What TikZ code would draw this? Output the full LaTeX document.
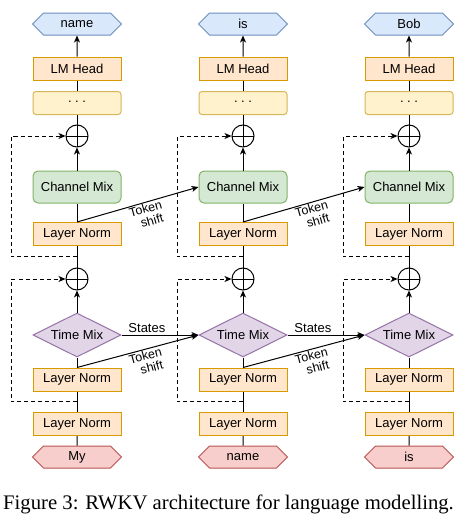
\documentclass[tikz,border=0pt]{standalone}
\usepackage{fontspec}
\setmainfont{Liberation Serif}
\setsansfont{Liberation Sans}
\usetikzlibrary{arrows.meta,shapes.geometric,shapes.symbols}
\definecolor{NormFill}{HTML}{FFE6CC}
\definecolor{NormLine}{HTML}{D79B00}
\definecolor{DotsFill}{HTML}{FFF2CC}
\definecolor{DotsLine}{HTML}{D6B656}
\definecolor{ChanFill}{HTML}{D5E8D4}
\definecolor{ChanLine}{HTML}{82B366}
\definecolor{TimeFill}{HTML}{E1D5E7}
\definecolor{TimeLine}{HTML}{9673A6}
\definecolor{OutFill}{HTML}{DAE8FC}
\definecolor{OutLine}{HTML}{6C8EBF}
\definecolor{InFill}{HTML}{F8CECC}
\definecolor{InLine}{HTML}{B85450}

\begin{document}
\begin{tikzpicture}[x=1pt, y=-1pt,
        txt/.style={font=\sffamily\fontsize{13}{15}\selectfont},
        blk/.style={txt, draw=NormLine, fill=NormFill, line width=1pt,
                    minimum width=88pt, minimum height=23pt, inner sep=0pt},
        dotsbox/.style={blk, draw=DotsLine, fill=DotsFill, rounded corners=3pt},
        chanbox/.style={blk, draw=ChanLine, fill=ChanFill, rounded corners=5pt, minimum height=32pt},
        timebox/.style={txt, diamond, aspect=2, draw=TimeLine, fill=TimeFill, line width=1pt,
                    minimum width=88pt, minimum height=44pt, inner sep=0pt},
        tokhex/.style={txt, signal, signal to=west and east, line width=1pt,
                    minimum width=89pt, minimum height=22pt, inner sep=0pt},
        addop/.style={circle, draw, line width=1pt, minimum size=22pt, inner sep=0pt,
                    path picture={\draw[line width=1pt] (path picture bounding box.north) -- (path picture bounding box.south)
                                  (path picture bounding box.west) -- (path picture bounding box.east);}},
        arr/.style={-{Stealth[length=7pt, width=6pt, inset=2pt]}, line width=1pt},
        res/.style={arr, dash pattern=on 4pt off 3pt},
        tslab/.style={txt, sloped, below, pos=0.55, align=center, inner sep=1pt,
                    font=\sffamily\fontsize{12.5}{13}\selectfont}
]
    \useasboundingbox (0,0) rectangle (469,522);

    \foreach \i/\x/\tin/\tout in {1/77/My/name, 2/243/name/is, 3/409/is/Bob} {
        \node[tokhex, draw=OutLine, fill=OutFill] (out\i) at (\x,24) {\tout};
        \node[blk] (head\i) at (\x,68.5) {LM Head};
        \node[dotsbox] (dots\i) at (\x,103) {\raisebox{3pt}{.\hspace{3.5pt}.\hspace{3.5pt}.}};
        \node[addop] (addB\i) at (\x,136) {};
        \node[chanbox] (cmix\i) at (\x,187) {Channel Mix};
        \node[blk] (lnC\i) at (\x,234) {Layer Norm};
        \node[addop] (addA\i) at (\x,279) {};
        \node[timebox] (tmix\i) at (\x,335) {Time Mix};
        \node[blk] (lnB\i) at (\x,379.5) {Layer Norm};
        \node[blk] (lnA\i) at (\x,424) {Layer Norm};
        \node[tokhex, draw=InLine, fill=InFill] (in\i) at (\x,457) {\tin};
        \coordinate (splitA\i) at (\x,401.5);
        \coordinate (splitB\i) at (\x,256.5);

        \draw[line width=1pt] (in\i) -- (lnA\i);
        \draw[line width=1pt] (lnA\i) -- (lnB\i);
        \draw[line width=1pt] (lnB\i) -- (tmix\i);
        \draw[arr] (tmix\i) -- (addA\i);
        \draw[line width=1pt] (addA\i) -- (lnC\i);
        \draw[line width=1pt] (lnC\i) -- (cmix\i);
        \draw[arr] (cmix\i) -- (addB\i);
        \draw[line width=1pt] (addB\i) -- (dots\i);
        \draw[line width=1pt] (dots\i) -- (head\i);
        \draw[arr] (head\i) -- (out\i);

        \draw[res] (splitA\i) -- ++(-66,0) |- (addA\i.west);
        \draw[res] (splitB\i) -- ++(-66,0) |- (addB\i.west);
    }

    \foreach \i/\j in {1/2, 2/3} {
        \draw[arr] (tmix\i.east) -- node[txt, above, pos=0.33, inner sep=2pt] {States} (tmix\j.west);
        \draw[arr] (lnB\i.north) -- node[tslab] {Token\\\hspace*{6pt}shift} (tmix\j.west);
        \draw[arr] (lnC\i.north) -- node[tslab] {Token\\\hspace*{6pt}shift} (cmix\j.west);
    }

    \node[anchor=base west, inner sep=0pt, font=\rmfamily\fontsize{20.7}{24}\selectfont] (caption) at (3,509)
        {Figure 3: RWKV architecture for language modelling.};
\end{tikzpicture}
\end{document}
